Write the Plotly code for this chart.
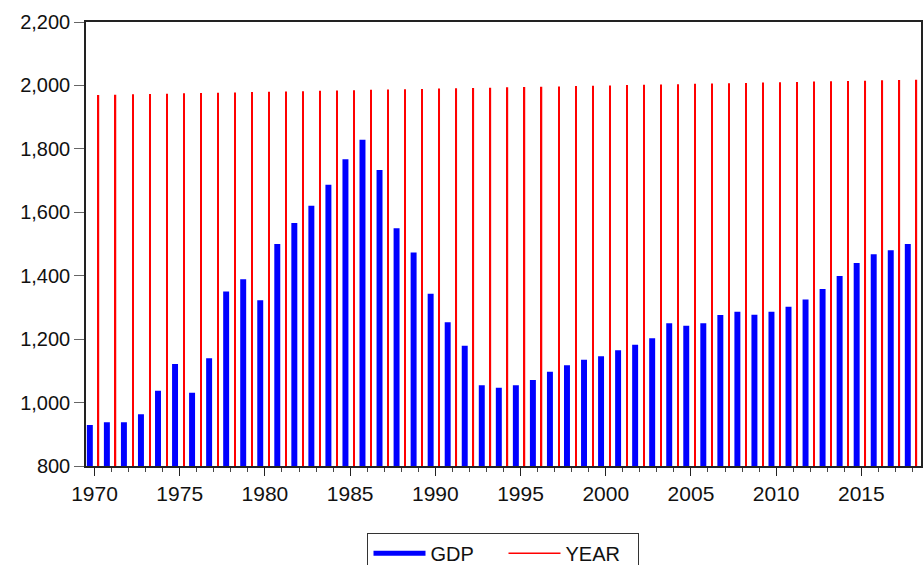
import plotly.graph_objects as go

years = list(range(1970, 2019))

gdp = [929, 938, 938, 963, 1037, 1122, 1031, 1140, 1350, 1389,
       1323, 1500, 1566, 1621, 1687, 1767, 1829, 1733, 1550, 1473,
       1343, 1253, 1179, 1055, 1047, 1055, 1071, 1097, 1118, 1135,
       1146, 1165, 1182, 1203, 1250, 1242, 1250, 1276, 1286, 1277,
       1286, 1302, 1325, 1358, 1399, 1440, 1468, 1480, 1500]

year_series = years

font_name = 'Liberation Sans, Arial, sans-serif'

fig = go.Figure()

# bars (legend entries are drawn by the line traces below)
fig.add_trace(go.Bar(
    x=years, y=gdp, width=0.35, offset=-0.45,
    marker=dict(color='#0000FF', line=dict(width=0)),
    showlegend=False
))
fig.add_trace(go.Bar(
    x=years, y=year_series, width=0.075, offset=0.2,
    marker=dict(color='#FF0000', line=dict(width=0)),
    showlegend=False
))

# legend samples
fig.add_trace(go.Scatter(
    x=[None], y=[None], mode='lines', name='GDP',
    line=dict(color='#0000FF', width=5)
))
fig.add_trace(go.Scatter(
    x=[None], y=[None], mode='lines', name='YEAR',
    line=dict(color='#FF0000', width=1.5)
))

fig.update_layout(
    width=923,
    height=565,
    barmode='overlay',
    plot_bgcolor='white',
    paper_bgcolor='white',
    font=dict(family=font_name, size=20, color='#111'),
    margin=dict(l=86, r=2, t=22, b=99),
    legend=dict(
        orientation='h',
        xref='container', yref='container',
        x=0.5455, xanchor='center',
        y=0.057, yanchor='top',
        bordercolor='#333', borderwidth=1,
        font=dict(size=20),
        itemwidth=52,
        entrywidth=68,
        traceorder='normal',
    ),
)

fig.update_xaxes(
    range=[1969.5, 2018.5],
    tick0=1970, dtick=5,
    ticks='outside', ticklen=8, tickcolor='#222',
    minor=dict(dtick=1, tick0=1970, ticks='outside', ticklen=4, tickcolor='#444'),
    showgrid=False, zeroline=False, automargin=False,
    showline=True, linecolor='#222', linewidth=1.5, mirror=True,
    tickfont=dict(size=21),
)
fig.update_yaxes(
    range=[800, 2200],
    dtick=200, tickformat=',',
    ticks='outside', ticklen=10, tickcolor='#666',
    showgrid=False, zeroline=False, automargin=False,
    showline=True, linecolor='#222', linewidth=1.5, mirror=True,
    tickfont=dict(size=20),
)

fig.write_html(
    "out.html",
    config={'displayModeBar': False},
    post_script="document.body.style.margin='0px';document.body.style.overflow='hidden';",
)
